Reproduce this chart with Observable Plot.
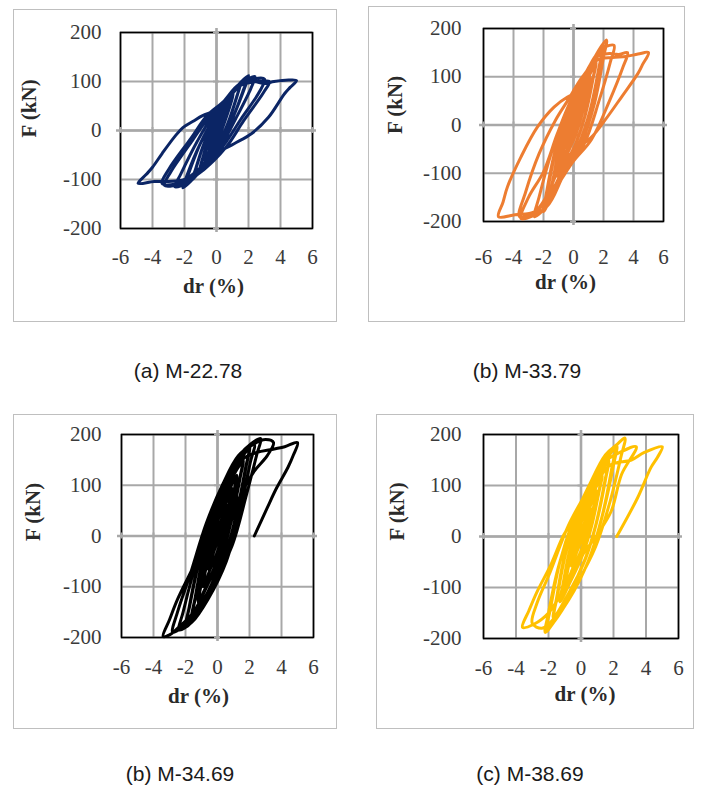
<!DOCTYPE html>
<html>
<head>
<meta charset="utf-8">
<script src="https://cdn.jsdelivr.net/npm/d3@7"></script>
<script src="https://cdn.jsdelivr.net/npm/@observablehq/plot@0.6"></script>
<style>
  html, body { margin: 0; padding: 0; background: #fff; }
  #page { position: relative; width: 703px; height: 789px; background: #fff; overflow: hidden; }
  .box { position: absolute; box-sizing: border-box; border: 1.5px solid #bfbfbf; }
  .chart { position: absolute; }
  .chart svg { overflow: visible; }
  .cap { position: absolute; font-family: "Liberation Sans", Arial, sans-serif; font-size: 21px; color: #1a1a1a; white-space: nowrap; transform: translateX(-50%); }
</style>
</head>
<body>
<div id="page"></div>
<script>
// ---- data (dr in %, F in kN) ----
const xTicks = [-6, -4, -2, 0, 2, 4, 6];
const yTicks = [-200, -100, 0, 100, 200];
const captions = ["(a) M-22.78", "(b) M-33.79", "(b) M-34.69", "(c) M-38.69"];

const loopA = [
[0,0],[0.15,10],[0.3,20],[0.22,12],[0.05,0],[-0.12,-10],[-0.3,-22],[-0.22,-13],[-0.05,0],
[0.2,16],[0.5,36],[0.4,24],[0.15,2],[-0.15,-16],[-0.5,-38],[-0.4,-26],[-0.15,-2],
[0.2,18],[0.5,40],[0.8,58],[0.65,40],[0.3,6],[0,-16],[-0.4,-40],[-0.8,-60],[-0.65,-42],[-0.3,-8],
[0,14],[0.5,46],[1.05,76],[0.9,56],[0.45,12],[0.05,-22],[-0.5,-52],[-1.05,-80],[-0.88,-58],[-0.45,-14],
[0.05,16],[0.55,48],[1.0,72],[0.85,52],[0.4,10],[0,-22],[-0.5,-54],[-1.0,-76],[-0.85,-55],[-0.4,-12],
[0,18],[0.7,60],[1.5,96],[1.3,72],[0.75,18],[0.15,-28],[-0.7,-66],[-1.5,-100],[-1.3,-78],[-0.75,-24],
[-0.05,20],[0.7,62],[1.45,92],[1.25,68],[0.7,14],[0.1,-30],[-0.7,-68],[-1.45,-96],[-1.25,-74],[-0.7,-20],
[-0.1,22],[0.8,70],[1.5,98],[2.0,112],[1.75,86],[1.0,24],[0.25,-30],[-0.7,-70],[-1.5,-100],[-2.1,-117],[-1.85,-92],[-1.0,-26],
[-0.15,22],[0.8,68],[1.9,104],[1.65,80],[0.95,20],[0.2,-32],[-0.75,-72],[-1.95,-108],[-1.7,-84],[-0.95,-22],
[-0.2,22],[0.6,60],[1.4,94],[2.0,106],[2.4,110],[2.15,86],[1.2,24],[0.3,-30],[-0.7,-72],[-1.7,-104],[-2.6,-115],[-2.25,-90],[-1.2,-22],
[-0.35,24],[0.5,56],[1.3,90],[2.2,104],[3.0,105],[2.7,80],[1.5,22],[0.45,-30],[-0.8,-78],[-2.0,-106],[-3.25,-112],[-2.85,-84],[-1.5,-20],
[-0.45,28],[0.5,58],[1.5,92],[2.5,100],[3.3,100],[2.95,78],[1.7,20],[0.6,-34],[-0.8,-80],[-2.1,-106],[-3.4,-108],[-3.0,-80],[-1.6,-16],
[-0.6,30],[0.4,58],[1.4,94],[2.3,100],[3.0,96],[3.6,100],[4.5,103],[5.0,102],[4.6,88],[4.25,75],[3.25,27],[2.2,-6],[1.1,-27],[0.1,-45],
[-1.0,-76],[-2.0,-100],[-3.0,-104],[-3.9,-104],[-4.9,-108],[-4.4,-90],[-4.0,-75],[-3.4,-47],[-2.6,-12],[-2.1,6],[-1.4,20],[-0.9,30],[0.1,42]
];

const loopB = [
[0,0],[0.15,14],[0.3,26],[0.22,14],[0.05,0],[-0.12,-12],[-0.3,-28],[-0.22,-15],[-0.05,0],
[0.2,20],[0.5,45],[0.4,28],[0.15,2],[-0.15,-18],[-0.5,-48],[-0.4,-30],[-0.15,-2],
[0.2,22],[0.5,48],[0.8,72],[0.65,48],[0.3,6],[0,-22],[-0.4,-48],[-0.8,-76],[-0.65,-50],[-0.3,-8],
[0,18],[0.5,58],[1.1,100],[0.95,70],[0.5,14],[0.05,-28],[-0.5,-65],[-1.1,-106],[-0.95,-74],[-0.5,-16],
[0,20],[0.55,60],[1.05,95],[0.9,66],[0.45,10],[0,-30],[-0.55,-68],[-1.05,-100],[-0.9,-70],[-0.45,-12],
[0,24],[0.7,78],[1.5,130],[1.3,95],[0.8,22],[0.2,-35],[-0.6,-85],[-1.5,-140],[-1.3,-102],[-0.8,-30],
[0,26],[0.75,82],[1.45,125],[1.25,90],[0.75,18],[0.15,-38],[-0.65,-90],[-1.45,-135],[-1.25,-98],[-0.75,-26],
[-0.1,30],[0.8,95],[1.5,140],[2.0,165],[1.8,128],[1.15,35],[0.35,-40],[-0.7,-100],[-1.5,-150],[-2.0,-180],[-1.8,-140],[-1.1,-40],
[-0.1,32],[0.85,100],[1.9,155],[1.7,120],[1.1,30],[0.3,-44],[-0.75,-105],[-1.9,-170],[-1.7,-132],[-1.05,-36],
[-0.3,30],[0.6,85],[1.5,145],[2.2,176],[2.0,140],[1.4,45],[0.5,-40],[-0.7,-105],[-1.7,-165],[-2.6,-190],[-2.3,-150],[-1.5,-60],
[-0.4,35],[0.5,85],[1.4,140],[2.0,160],[2.7,165],[2.45,130],[1.7,50],[0.7,-40],[-0.6,-100],[-1.8,-170],[-3.5,-194],[-3.0,-150],[-2.0,-97],[-1.1,-20],
[-0.3,42],[0.6,95],[1.5,140],[2.4,148],[3.0,146],[3.6,150],[3.3,120],[2.4,50],[1.2,-30],[0,-75],[-1.2,-130],[-2.5,-180],[-3.6,-190],[-3.2,-140],[-2.3,-60],[-1.2,10],
[-0.4,50],[0.6,100],[1.6,135],[2.6,140],[3.5,142],[4.3,147],[5.0,150],[4.6,125],[4.3,107],[3.2,58],[2.1,10],[1.2,-25],[0.1,-52],[-0.8,-80],
[-1.8,-148],[-2.6,-180],[-3.9,-186],[-5.0,-190],[-4.7,-160],[-4.4,-128],[-3.5,-66],[-2.4,-4],[-1.3,37],[-0.4,58],[0.2,66]
];

const loopC = [
[0,0],[0.15,16],[0.3,30],[0.22,16],[0.05,0],[-0.12,-14],[-0.3,-30],[-0.22,-16],[-0.05,0],
[0.25,28],[0.6,60],[0.5,38],[0.2,4],[-0.15,-24],[-0.6,-65],[-0.5,-42],[-0.2,-4],
[0.2,28],[0.55,65],[0.9,95],[0.75,65],[0.35,10],[0,-30],[-0.45,-65],[-0.9,-100],[-0.75,-68],[-0.35,-10],
[0,28],[0.6,80],[1.2,120],[1.05,88],[0.6,22],[0.1,-38],[-0.55,-88],[-1.2,-130],[-1.05,-96],[-0.6,-25],
[0,30],[0.6,82],[1.15,115],[1.0,84],[0.55,18],[0.05,-40],[-0.6,-92],[-1.15,-125],[-1.0,-92],[-0.55,-22],
[-0.1,30],[0.7,100],[1.6,150],[1.4,112],[0.85,28],[0.25,-45],[-0.6,-110],[-1.6,-160],[-1.4,-122],[-0.85,-35],
[-0.1,32],[0.75,105],[1.55,145],[1.35,108],[0.8,24],[0.2,-48],[-0.65,-115],[-1.55,-155],[-1.35,-118],[-0.8,-32],
[-0.2,35],[0.8,115],[1.5,155],[2.0,175],[1.8,138],[1.2,45],[0.4,-50],[-0.7,-125],[-1.5,-165],[-2.0,-180],[-1.8,-145],[-1.2,-55],
[-0.25,36],[0.8,118],[1.95,170],[1.75,134],[1.15,40],[0.35,-52],[-0.75,-128],[-1.95,-175],[-1.75,-140],[-1.15,-50],
[-0.4,35],[0.6,112],[1.5,160],[2.3,180],[2.05,145],[1.45,55],[0.55,-50],[-0.6,-125],[-1.6,-170],[-2.4,-185],[-2.15,-150],[-1.5,-70],
[-0.6,30],[0.4,105],[1.4,160],[2.1,182],[2.7,192],[2.45,160],[1.8,80],[0.9,-20],[-0.2,-90],[-1.3,-150],[-2.2,-180],[-2.8,-190],[-2.5,-150],[-1.7,-75],
[-0.7,25],[0.3,100],[1.3,158],[2.2,180],[3.0,190],[3.5,184],[3.1,158],[2.3,128],[1.5,85],[1.0,43],[0.2,-43],[-0.6,-95],[-1.5,-150],[-2.5,-182],[-3.0,-195],[-3.4,-198],
[-3.0,-165],[-2.5,-125],[-1.5,-60],[-0.45,14],[0.2,53],[0.6,99],[1.6,152],[2.5,165],[3.3,170],[4.2,176],[5.0,184],[4.75,160],[4.4,135],[3.7,95],[3.1,55],[2.3,0]
];

const loopD = [
[0,0],[0.15,14],[0.3,28],[0.22,15],[0.05,0],[-0.12,-12],[-0.3,-28],[-0.22,-15],[-0.05,0],
[0.25,25],[0.6,55],[0.5,35],[0.2,3],[-0.15,-22],[-0.6,-58],[-0.5,-38],[-0.2,-4],
[0.2,26],[0.6,62],[0.95,90],[0.8,62],[0.4,8],[0,-28],[-0.5,-62],[-0.95,-95],[-0.8,-64],[-0.4,-8],
[0,26],[0.6,75],[1.3,120],[1.1,86],[0.65,20],[0.1,-36],[-0.6,-85],[-1.3,-128],[-1.1,-92],[-0.65,-22],
[0,28],[0.65,78],[1.25,115],[1.05,82],[0.6,16],[0.05,-38],[-0.65,-88],[-1.25,-122],[-1.05,-88],[-0.6,-18],
[-0.1,28],[0.8,100],[1.7,150],[1.5,110],[0.95,26],[0.3,-42],[-0.65,-105],[-1.7,-160],[-1.5,-120],[-0.95,-32],
[-0.1,30],[0.85,104],[1.65,145],[1.45,106],[0.9,22],[0.25,-44],[-0.7,-108],[-1.65,-155],[-1.45,-116],[-0.9,-28],
[-0.25,32],[0.7,105],[1.6,155],[2.2,178],[2.0,140],[1.35,45],[0.5,-45],[-0.7,-120],[-1.6,-165],[-2.2,-188],[-2.0,-150],[-1.35,-55],
[-0.3,34],[0.75,108],[2.1,172],[1.9,135],[1.3,40],[0.45,-48],[-0.75,-124],[-2.1,-180],[-1.9,-145],[-1.3,-50],
[-0.5,30],[0.5,100],[1.5,160],[2.2,180],[2.7,193],[2.45,155],[1.8,70],[0.9,-20],[-0.3,-95],[-1.5,-155],[-2.4,-180],[-3.0,-170],[-2.7,-130],[-1.9,-70],
[-0.8,20],[0.3,85],[1.4,145],[2.4,165],[3.4,176],[2.5,122],[1.85,49],[1.0,4],[0,-41],[-1.0,-100],[-2.0,-150],[-2.9,-172],[-3.6,-178],
[-3.2,-145],[-2.7,-108],[-1.85,-55],[-1.05,4],[-0.6,24],[0,37],[0.8,95],[1.8,140],[3.1,150],[3.9,165],[5.0,176],[4.7,155],[4.3,135],[3.5,77],[2.2,0]
];

// ---- layout ----
const panels = [
  {pts: loopA, color: "#0b2565", box: [13, 9, 324, 313], m: [23, 25, 94, 107], padY: 19, padX: 21, drDy: 64, drDx: -3, fDx: -91, fDy: 7, cap: [188, 359]},
  {pts: loopB, color: "#ED7D31", box: [368, 6, 317, 316], m: [22, 22, 101, 115], padY: 22, padX: 28, drDy: 67, drDx: -8, fDx: -88, fDy: 9, cap: [527, 359]},
  {pts: loopC, color: "#000000", box: [13, 414, 324, 315], m: [20, 24, 92, 108], padY: 20, padX: 22, drDy: 65, drDx: -19, fDx: -88, fDy: 5, cap: [180, 762]},
  {pts: loopD, color: "#FFC000", box: [376, 414, 318, 315], m: [20, 16, 91, 107], padY: 22, padX: 22, drDy: 62, drDx: 4, fDx: -86, fDy: 4, cap: [530, 762]}
];

const page = document.getElementById("page");
const gridColor = "#a8a8a8";

panels.forEach((p, i) => {
  const [bx, by, bw, bh] = p.box;
  const box = document.createElement("div");
  box.className = "box";
  Object.assign(box.style, {left: bx + "px", top: by + "px", width: bw + "px", height: bh + "px"});
  page.appendChild(box);

  const data = p.pts.map(([dr, F], k) => ({k, dr, F}));
  const chart = Plot.plot({
    width: bw, height: bh,
    marginTop: p.m[0], marginRight: p.m[1], marginBottom: p.m[2], marginLeft: p.m[3],
    style: {fontFamily: "'Liberation Serif', 'Times New Roman', serif", background: "transparent", color: "#3a3a3a", overflow: "visible"},
    x: {domain: [-6, 6], label: null},
    y: {domain: [-200, 200], label: null},
    marks: [
      Plot.gridX(xTicks, {stroke: gridColor, strokeOpacity: 1, strokeWidth: 2}),
      Plot.gridY(yTicks, {stroke: gridColor, strokeOpacity: 1, strokeWidth: 2}),
      Plot.frame({stroke: "#000", strokeWidth: 1.6}),
      Plot.ruleY([0], {stroke: gridColor, strokeWidth: 2.6, insetLeft: -4, insetRight: -4}),
      Plot.ruleX([0], {stroke: gridColor, strokeWidth: 2.6, insetTop: -4, insetBottom: -4}),
      Plot.ruleX(xTicks, {y1: 0, y2: 0, stroke: gridColor, strokeWidth: 2, insetTop: -3, insetBottom: -3}),
      Plot.ruleY(yTicks, {x1: 0, x2: 0, stroke: gridColor, strokeWidth: 2, insetLeft: -3, insetRight: -3}),
      Plot.line(data, {x: "dr", y: "F", stroke: p.color, strokeWidth: 3, curve: "catmull-rom", strokeLinejoin: "round"}),
      Plot.axisX(xTicks, {tickSize: 0, tickPadding: p.padX, fontSize: 21, tickFormat: d => String(d), label: null}),
      Plot.axisY(yTicks, {tickSize: 0, tickPadding: p.padY, fontSize: 21, tickFormat: d => String(d), label: null}),
      Plot.text(["dr (%)"], {frameAnchor: "bottom", dy: p.drDy, dx: p.drDx, fontSize: 21, fontWeight: "bold", fill: "#2a2a2a"}),
      Plot.text(["F (kN)"], {frameAnchor: "left", dx: p.fDx, dy: p.fDy, rotate: -90, fontSize: 21, fontWeight: "bold", fill: "#2a2a2a"})
    ]
  });
  const wrap = document.createElement("div");
  wrap.className = "chart";
  Object.assign(wrap.style, {left: bx + "px", top: by + "px", width: bw + "px", height: bh + "px"});
  wrap.appendChild(chart);
  page.appendChild(wrap);

  const cap = document.createElement("div");
  cap.className = "cap";
  cap.textContent = captions[i];
  Object.assign(cap.style, {left: p.cap[0] + "px", top: p.cap[1] + "px"});
  page.appendChild(cap);
});
</script>
</body>
</html>
